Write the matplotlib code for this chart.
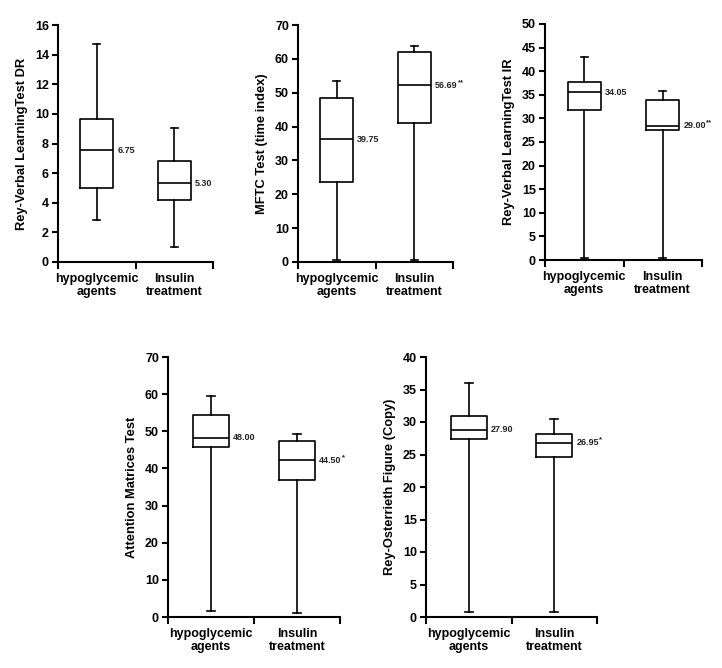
import matplotlib
matplotlib.use("Agg")
from matplotlib import pyplot as plt

plt.rcParams['font.family'] = ['Liberation Sans', 'DejaVu Sans']

groups = ["hypoglycemic\nagents", "Insulin\ntreatment"]

# whisker low, Q1, median, Q3, whisker high  (hypoglycemic, insulin)
dr_stats = [[2.85, 5.0, 7.55, 9.65, 14.75], [1.0, 4.2, 5.3, 6.85, 9.05]]
mftc_stats = [[0.5, 23.7, 36.2, 48.4, 53.4], [0.5, 41.2, 52.2, 62.0, 63.9]]
ir_stats = [[0.5, 31.8, 35.5, 37.7, 43.0], [0.5, 27.5, 28.4, 33.8, 35.7]]
attn_stats = [[1.5, 45.8, 48.2, 54.5, 59.5], [1.2, 36.9, 42.2, 47.5, 49.2]]
rey_stats = [[0.8, 27.4, 28.8, 30.9, 36.0], [0.7, 24.6, 26.8, 28.2, 30.5]]

dr_labels = [("6.75", ""), ("5.30", "")]
mftc_labels = [("39.75", ""), ("56.69", "**")]
ir_labels = [("34.05", ""), ("29.00", "**")]
attn_labels = [("48.00", ""), ("44.50", "*")]
rey_labels = [("27.90", ""), ("26.95", "*")]

panels = [
    # stats, labels, ylabel, ymax, ystep, axes rect
    (dr_stats, dr_labels, "Rey-Verbal LearningTest DR", 16, 2,
     [58 / 722, 1 - 262 / 668, 155 / 722, 237 / 668]),
    (mftc_stats, mftc_labels, "MFTC Test (time index)", 70, 10,
     [298 / 722, 1 - 262 / 668, 155 / 722, 237 / 668]),
    (ir_stats, ir_labels, "Rey-Verbal LearningTest IR", 50, 5,
     [545 / 722, 1 - 260 / 668, 157 / 722, 236 / 668]),
    (attn_stats, attn_labels, "Attention Matrices Test", 70, 10,
     [168 / 722, 1 - 617 / 668, 172 / 722, 260 / 668]),
    (rey_stats, rey_labels, "Rey-Osterrieth Figure (Copy)", 40, 5,
     [426 / 722, 1 - 617 / 668, 171 / 722, 260 / 668]),
]

BOX_W = 0.42


def draw_panel(fig, stats, labels, ylabel, ymax, ystep, rect):
    ax = fig.add_axes(rect)
    bxp_stats = []
    for name, s in zip(groups, stats):
        bxp_stats.append({"label": name, "whislo": s[0], "q1": s[1],
                          "med": s[2], "q3": s[3], "whishi": s[4], "fliers": []})
    lw = 1.2
    ax.bxp(bxp_stats, positions=[0, 1], widths=BOX_W, capwidths=0.09,
           showfliers=False,
           boxprops=dict(color="black", linewidth=lw),
           whiskerprops=dict(color="black", linewidth=lw),
           capprops=dict(color="black", linewidth=lw),
           medianprops=dict(color="black", linewidth=lw))

    for i, (val, star) in enumerate(labels):
        x = i + BOX_W / 2
        t = ax.annotate(val, xy=(x, stats[i][2]), xytext=(3, 0),
                        textcoords="offset points", ha="left", va="center",
                        fontsize=6.5, fontweight="bold", color="#222222")
        if star:
            ax.annotate(star, xy=(1, 1), xycoords=t, xytext=(0.3, -1.2),
                        textcoords="offset points", ha="left", va="center",
                        fontsize=5.5, fontweight="bold", color="#222222")

    ax.set_xlim(-0.5, 1.5)
    ax.set_ylim(0, ymax)
    ax.set_yticks(range(0, ymax + 1, ystep))
    ax.set_xticks([0, 1])
    ax.set_xticklabels(groups, fontsize=9, fontweight="bold", linespacing=1.1)
    ax.set_xticks([-0.5, 0.5, 1.5], minor=True)
    ax.tick_params(axis="x", which="major", length=0, pad=8)
    ax.tick_params(axis="x", which="minor", length=5, width=1.5)
    ax.tick_params(axis="y", length=4, width=1.5, labelsize=9, pad=2.5)
    for lbl in ax.get_yticklabels():
        lbl.set_fontweight("bold")
    ax.set_ylabel(ylabel, fontsize=9.3, fontweight="bold", labelpad=5)

    ax.spines["top"].set_visible(False)
    ax.spines["right"].set_visible(False)
    ax.spines["left"].set_linewidth(1.5)
    ax.spines["bottom"].set_linewidth(1.5)
    return ax


fig = plt.figure(figsize=(7.22, 6.68), dpi=100)
for stats, labels, ylabel, ymax, ystep, rect in panels:
    draw_panel(fig, stats, labels, ylabel, ymax, ystep, rect)

fig.savefig("out.png", dpi=100)
